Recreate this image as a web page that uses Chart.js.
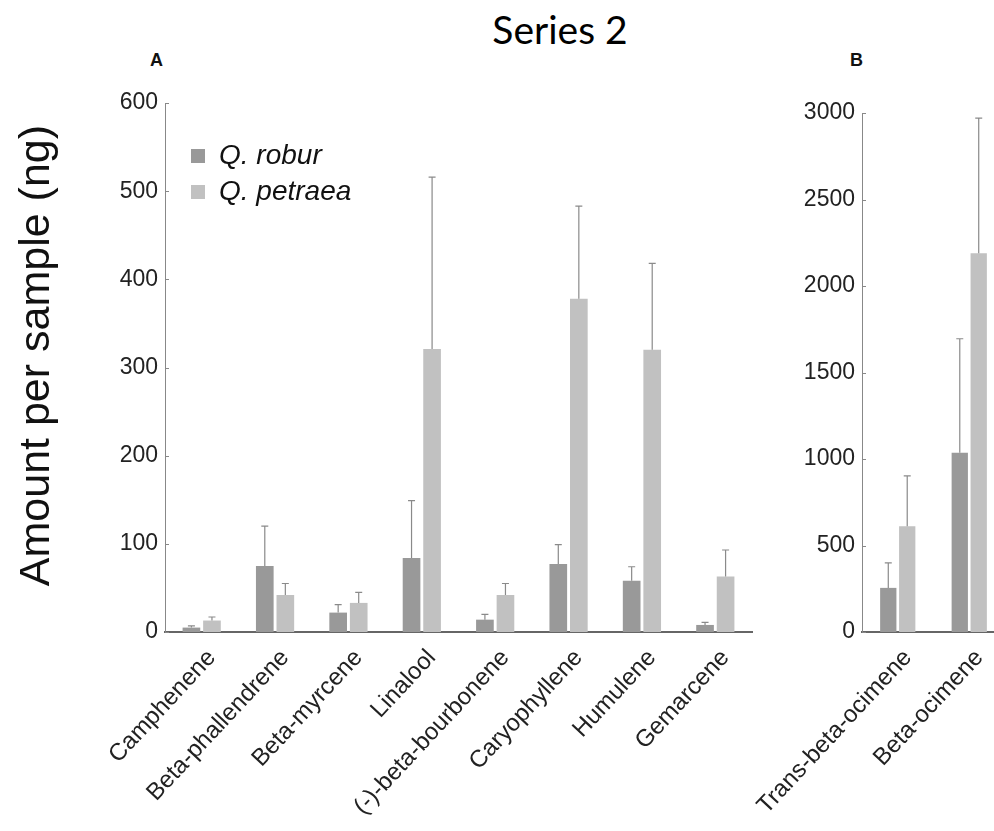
<!DOCTYPE html>
<html><head><meta charset="utf-8">
<script src="https://cdn.jsdelivr.net/npm/chart.js@4.4.0/dist/chart.umd.min.js"></script>
<style>
html,body{margin:0;padding:0;width:994px;height:831px;overflow:hidden;background:#fff;position:relative;}
canvas{position:absolute;top:0;}
#cA{left:0;}
#cB{left:700px;}
.lbl{position:absolute;font-family:"Liberation Sans",Arial,sans-serif;font-weight:bold;font-size:18px;color:#111;line-height:1;}
#title{position:absolute;left:410px;width:300px;top:10px;text-align:center;font-family:Lato,"Open Sans",sans-serif;font-size:39px;color:#000;line-height:1;}
</style></head>
<body>
<div id="title">Series 2</div>
<div class="lbl" style="left:150px;top:51px;">A</div>
<div class="lbl" style="left:850px;top:51px;">B</div>
<canvas id="cA" width="780" height="831"></canvas>
<canvas id="cB" width="320" height="831"></canvas>
<script>
// ---- Data ----
const seriesNames = ['Q. robur', 'Q. petraea'];
const categoriesA = ['Camphenene', 'Beta-phallendrene', 'Beta-myrcene', 'Linalool', '(-)-beta-bourbonene', 'Caryophyllene', 'Humulene', 'Gemarcene'];
const roburA   = [5, 75, 22, 84, 14, 77, 58, 8];
const petraeaA = [13, 42, 33, 321, 42, 378, 320, 63];
const roburUpperA   = [7, 120, 31, 149, 20, 99, 74, 11];
const petraeaUpperA = [17, 55, 45, 516, 55, 483, 418, 93];
const ticksA = [0, 100, 200, 300, 400, 500, 600];

const categoriesB = ['Trans-beta-ocimene', 'Beta-ocimene'];
const roburB   = [255, 1036];
const petraeaB = [611, 2190];
const roburUpperB   = [400, 1695];
const petraeaUpperB = [903, 2970];
const ticksB = [0, 500, 1000, 1500, 2000, 2500, 3000];

const colRobur = '#999999';
const colPetraea = '#c1c1c1';
const FONT = '"Liberation Sans", Arial, sans-serif';

const errorBars = {
  id: 'errorBars',
  afterDatasetsDraw(chart) {
    const ctx = chart.ctx;
    const yScale = chart.scales.y;
    ctx.save();
    chart.data.datasets.forEach((ds, di) => {
      const meta = chart.getDatasetMeta(di);
      meta.data.forEach((bar, i) => {
        const top = yScale.getPixelForValue(ds.upper[i]);
        const base = yScale.getPixelForValue(ds.data[i]);
        ctx.strokeStyle = '#8a8a8a';
        ctx.lineWidth = 1.2;
        ctx.beginPath();
        ctx.moveTo(bar.x, base);
        ctx.lineTo(bar.x, top);
        ctx.moveTo(bar.x - 3.5, top);
        ctx.lineTo(bar.x + 3.5, top);
        ctx.stroke();
      });
    });
    // inward tick marks on the value axis
    ctx.strokeStyle = '#888';
    ctx.lineWidth = 1;
    ctx.beginPath();
    yScale.ticks.forEach(t => {
      const y = Math.round(yScale.getPixelForValue(t.value)) + 0.5;
      ctx.moveTo(chart.chartArea.left, y);
      ctx.lineTo(chart.chartArea.left + 4, y);
    });
    ctx.stroke();
    ctx.restore();
  }
};

const moveLegend = {
  id: 'moveLegend',
  afterLayout(chart, args, opts) {
    if (!opts.enabled || !chart.legend) return;
    const l = chart.legend;
    const w = l.width, h = l.height;
    l.left = opts.x; l.top = opts.y;
    l.right = l.left + w; l.bottom = l.top + h;
  }
};

function makeChart(id, cats, rob, pet, robUp, petUp, ticks, layout, showLegend, showTitle) {
  return new Chart(document.getElementById(id), {
    type: 'bar',
    data: {
      labels: cats,
      datasets: [
        { label: seriesNames[0], data: rob, upper: robUp, backgroundColor: colRobur, borderWidth: 0,
          categoryPercentage: layout.cat, barPercentage: layout.bar },
        { label: seriesNames[1], data: pet, upper: petUp, backgroundColor: colPetraea, borderWidth: 0,
          categoryPercentage: layout.cat, barPercentage: layout.bar }
      ]
    },
    options: {
      responsive: false,
      animation: false,
      layout: { padding: { top: layout.top, right: layout.right, left: 0, bottom: 0 } },
      plugins: {
        legend: {
          display: showLegend,
          position: 'chartArea',
          align: 'start',
          labels: {
            boxWidth: 14, boxHeight: 14, padding: 8,
            color: '#111',
            font: { family: FONT, size: 28, style: 'italic' }
          }
        },
        title: { display: false },
        tooltip: { enabled: false },
        moveLegend: { enabled: showLegend, x: 183, y: 134 }
      },
      scales: {
        x: {
          grid: { display: false, drawTicks: false },
          border: { display: true, color: '#666', width: 2 },
          ticks: {
            color: '#222', font: { family: FONT, size: 24 },
            minRotation: 47, maxRotation: 47, autoSkip: false, padding: 12, labelOffset: 10
          },
          afterFit(s) { s.height = 831 - 632; s.paddingLeft = 0; s.paddingRight = 0; }
        },
        y: {
          min: ticks[0], max: ticks[ticks.length - 1],
          afterBuildTicks(s) { s.ticks = ticks.map(v => ({ value: v })); },
          grid: { display: false, drawTicks: false },
          border: { display: true, color: '#888', width: 1 },
          ticks: { color: '#222', font: { family: FONT, size: 23 }, padding: 7, callback: v => String(v) },
          title: {
            display: showTitle, text: '  Amount per sample (ng)', color: '#111',
            font: { family: FONT, size: 43 }, padding: { top: 11, bottom: 0 }
          },
          afterFit(s) { s.width = layout.yw; s.paddingTop = 0; s.paddingBottom = 0; }
        }
      }
    },
    plugins: [errorBars, moveLegend]
  });
}

makeChart('cA', categoriesA, roburA, petraeaA, roburUpperA, petraeaUpperA, ticksA,
  { top: 103, right: 28, yw: 165, cat: 0.56, bar: 0.86 }, true, true);
makeChart('cB', categoriesB, roburB, petraeaB, roburUpperB, petraeaUpperB, ticksB,
  { top: 113, right: 15, yw: 162, cat: 0.53, bar: 0.86 }, false, false);
</script>
</body></html>
